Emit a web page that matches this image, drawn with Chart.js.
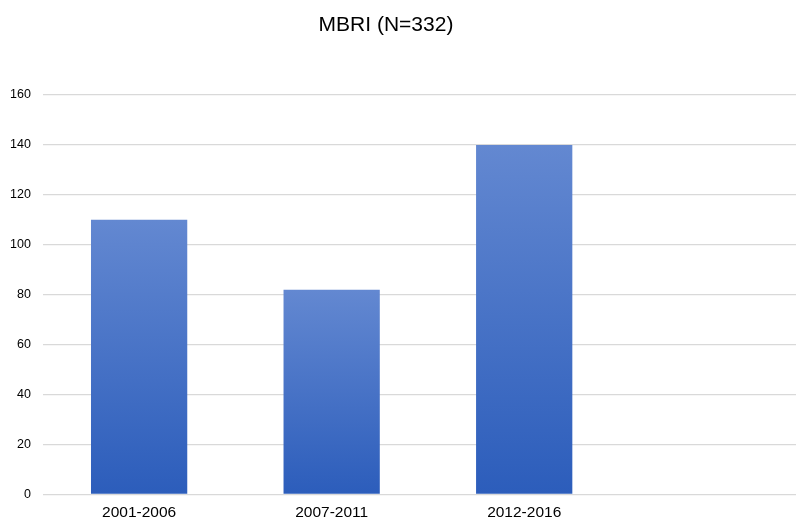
<!DOCTYPE html>
<html>
<head>
<meta charset="utf-8">
<script src="https://cdn.jsdelivr.net/npm/chart.js@4/dist/chart.umd.min.js"></script>
<style>
html,body{margin:0;padding:0;background:#fff;overflow:hidden;}
#wrap{width:796px;height:518px;overflow:hidden;position:relative;}
#box{position:absolute;left:-12px;top:0;width:831px;height:531px;}
</style>
</head>
<body>
<div id="wrap"><div id="box"><canvas id="c"></canvas></div></div>
<script>
const categories = ['2001-2006', '2007-2011', '2012-2016', ''];
const values = [110, 82, 140, null];
const yTicks = [0, 20, 40, 60, 80, 100, 120, 140, 160];
const titleText = 'MBRI (N=332)';

const FONT = "'Liberation Sans', Arial, Helvetica, sans-serif";

function barFill(c) {
  const chart = c.chart;
  const ca = chart.chartArea;
  if (!ca || c.dataIndex === undefined) return '#4573c8';
  const v = values[c.dataIndex];
  if (v == null) return '#4573c8';
  const top = chart.scales.y.getPixelForValue(v);
  const g = chart.ctx.createLinearGradient(0, top, 0, ca.bottom);
  g.addColorStop(0, '#6388d1');
  g.addColorStop(1, '#2c5dbb');
  return g;
}

const titlePlugin = {
  id: 'pageTitle',
  afterDraw(chart) {
    const ctx = chart.ctx;
    ctx.save();
    ctx.fillStyle = '#000';
    ctx.font = "21px " + FONT;
    ctx.textAlign = 'center';
    ctx.textBaseline = 'middle';
    ctx.fillText(titleText, 398, 25);
    ctx.restore();
  }
};

new Chart(document.getElementById('c'), {
  type: 'bar',
  data: {
    labels: categories,
    datasets: [{
      data: values,
      backgroundColor: barFill,
      borderWidth: 0,
      categoryPercentage: 1.0,
      barPercentage: 0.5
    }]
  },
  plugins: [titlePlugin],
  options: {
    responsive: true,
    maintainAspectRatio: false,
    animation: false,
    devicePixelRatio: 1,
    layout: { padding: { left: 10, right: 6, top: 95, bottom: 0 } },
    plugins: {
      legend: { display: false },
      tooltip: { enabled: false },
      title: { display: false }
    },
    scales: {
      x: {
        grid: { display: false, drawTicks: false },
        border: { display: false },
        ticks: { color: '#000', font: { family: FONT, size: 15.5 }, padding: 9, maxRotation: 0 }
      },
      y: {
        min: 0,
        max: 160,
        afterBuildTicks: (s) => { s.ticks = yTicks.map(v => ({ value: v })); },
        grid: { color: '#d9d9d9', lineWidth: 1.2, drawTicks: false },
        border: { display: false },
        ticks: { color: '#000', font: { family: FONT, size: 12.5 }, padding: 12 }
      }
    }
  }
});
</script>
</body>
</html>
